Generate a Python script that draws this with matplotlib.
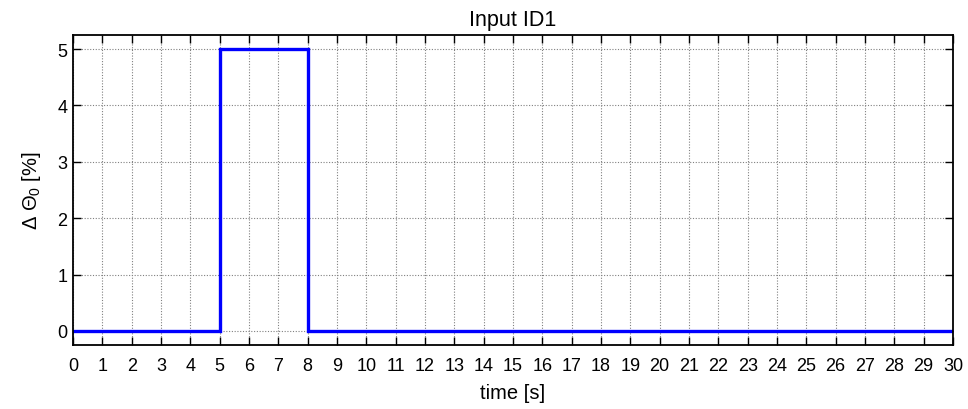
import numpy as np
import matplotlib
matplotlib.use('Agg')
import matplotlib.pyplot as plt

plt.rcParams['font.family'] = ['Liberation Sans', 'DejaVu Sans']
plt.rcParams['mathtext.fontset'] = 'custom'
plt.rcParams['mathtext.rm'] = 'Liberation Sans'
plt.rcParams['mathtext.it'] = 'Liberation Sans'

# step input: time [s] and delta theta_0 [%]
time_s = [0, 5, 5, 8, 8, 30]
dtheta = [0, 0, 5, 5, 0, 0]
xticks = list(range(0, 31))
yticks = [0, 1, 2, 3, 4, 5]

fig = plt.figure(figsize=(9.68, 4.10), dpi=100)
ax = fig.add_axes([73 / 968, 1 - 346 / 410, (953 - 73) / 968, (346 - 36) / 410])

ax.plot(time_s, dtheta, color='#0000ff', lw=2.4, solid_joinstyle='miter')
ax.set_xlim(0, 30)
ax.set_ylim(-0.25, 5.25)
ax.set_xticks(xticks)
ax.set_yticks(yticks)
ax.grid(True, color='#808080', linestyle=(0, (1, 1.5)), linewidth=0.8)
ax.tick_params(direction='in', length=6, width=1, top=True, right=True,
               labelsize=13)
ax.tick_params(axis='x', pad=9)
ax.tick_params(axis='y', pad=4)
for s in ax.spines.values():
    s.set_linewidth(1.3)

ax.set_title('Input ID1', fontsize=15.5, pad=7)
ax.set_xlabel('time [s]', fontsize=14.5, labelpad=6)
ax.set_ylabel('Δ Θ$_0$ [%]', fontsize=14.5, labelpad=10)

fig.savefig('out.png', dpi=100)
